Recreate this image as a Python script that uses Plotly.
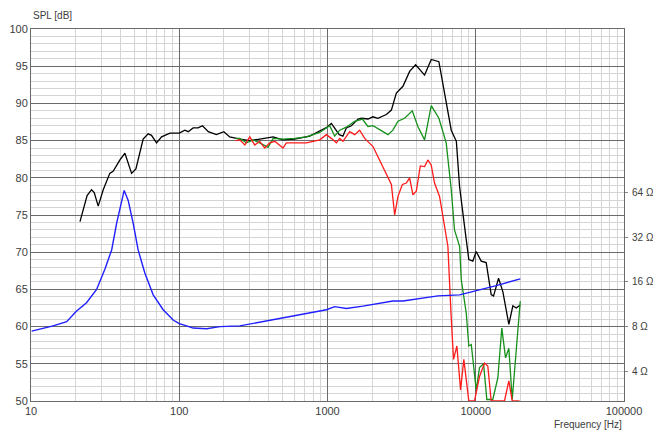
""" Loudspeaker SPL response and impedance curve """
import math

import plotly.graph_objects as go

# SPL on axis (black)
freq_black = [21.4, 23.9, 25.6, 26.7, 28.4, 30.7, 34.0, 35.9, 39.8, 43.0, 47.7, 51.0,
              57.1, 61.7, 65.0, 70.3, 76.0, 86.5, 100, 109, 115, 124, 134, 143.5,
              157, 178, 200, 219, 256, 300, 350, 430, 500, 601, 759, 909, 990, 1062,
              1146, 1200, 1270, 1340, 1449, 1607, 1700, 1875, 2027, 2187, 2495, 2697,
              2913, 3228, 3581, 3930, 4517, 5010, 5640, 6160, 6835, 7400, 7780, 8400,
              8980, 9550, 10070, 10880, 11760, 12710, 13180, 14250, 15230, 16720,
              17800, 18760, 19960]
spl_black = [74.1, 77.6, 78.4, 78.0, 76.2, 78.4, 80.6, 80.9, 82.4, 83.3, 80.6, 81.2,
             85.2, 85.9, 85.7, 84.7, 85.5, 86.0, 86.0, 86.4, 86.2, 86.7, 86.7, 87.0,
             86.2, 85.8, 86.2, 85.5, 85.2, 85.0, 85.2, 85.5, 85.1, 85.2, 85.6, 86.4,
             86.8, 87.3, 86.4, 85.8, 85.6, 86.7, 87.0, 87.9, 88.0, 87.9, 88.2, 88.0,
             88.5, 89.1, 91.4, 92.3, 94.3, 95.2, 93.8, 95.9, 95.6, 91.4, 86.4, 84.9,
             78.8, 73.5, 69.0, 68.8, 70.1, 68.8, 68.6, 64.3, 64.1, 66.5, 64.7, 60.3,
             62.8, 62.5, 62.9]

# SPL off axis (green)
freq_green = [240, 256, 284, 315, 349, 397, 430, 501, 600, 721, 886, 1035, 1118, 1208,
              1340, 1525, 1718, 1875, 2027, 2249, 2559, 2761, 2988, 3311, 3733, 4070,
              4517, 5010, 5640, 6320, 6835, 7190, 7780, 7985, 8630, 8980, 9330, 10070,
              10610, 11290, 11880, 13030, 14090, 14990, 15880, 16720, 17620, 19960]
spl_green = [85.3, 85.3, 84.7, 85.1, 84.7, 84.1, 85.3, 85.2, 85.3, 85.5, 86.1, 87.0,
             85.6, 86.4, 86.8, 87.6, 87.9, 86.9, 87.0, 86.5, 85.8, 86.4, 87.6, 88.0,
             89.0, 86.9, 85.1, 89.7, 88.0, 84.7, 78.4, 73.0, 70.8, 66.3, 61.8, 57.4,
             57.6, 51.5, 54.5, 55.0, 50.2, 50.2, 53.1, 59.8, 55.8, 57.1, 50.2, 63.4]

# SPL off axis (red)
freq_red = [240, 256, 277, 299, 323, 349, 377, 408, 441, 501, 528, 721, 886, 983, 1060,
            1148, 1208, 1271, 1412, 1525, 1648, 1782, 2027, 2249, 2559, 2697, 2839,
            2988, 3199, 3404, 3581, 3768, 3972, 4227, 4517, 4756, 5010, 5272, 5700,
            6160, 6486, 6800, 7080, 7460, 7900, 8310, 8980, 9810, 10610, 11460, 12060,
            12710, 15630, 16720, 17620, 19730]
spl_red = [85.0, 85.1, 84.4, 85.5, 84.4, 84.9, 84.0, 84.7, 84.9, 84.0, 84.7, 84.7,
           85.1, 85.8, 85.3, 84.7, 85.3, 84.9, 86.2, 85.8, 86.4, 85.3, 84.2, 82.4,
           80.0, 79.1, 75.0, 77.5, 79.1, 79.3, 80.0, 77.7, 78.2, 81.6, 81.5, 82.4,
           81.7, 79.3, 77.5, 73.5, 70.8, 62.0, 55.6, 57.4, 51.5, 55.6, 50.0, 50.0,
           53.3, 55.1, 54.7, 50.0, 50.0, 52.7, 50.0, 50.0]

# Impedance (blue), ohms
freq_imp = [10.1, 14.1, 17.4, 20.3, 23.7, 27.7, 31.5, 35.0, 37.8, 40.8, 42.5, 45.2,
            48.9, 52.8, 58.6, 66.7, 77.9, 91.0, 100, 112, 124, 153, 188, 256, 367,
            617, 984, 1118, 1340, 1734, 2761, 3228, 3972, 5555, 7780, 10070, 13740,
            19960]
ohm_imp = [7.46, 8.09, 8.64, 10.2, 11.6, 14.25, 19.5, 26.3, 39.8, 57.0, 66.3, 57.0,
           39.8, 26.3, 18.4, 13.1, 10.4, 8.86, 8.38, 8.09, 7.82, 7.73, 8.0, 8.09, 8.64,
           9.6, 10.4, 10.9, 10.6, 11.0, 11.9, 11.9, 12.3, 12.9, 13.1, 13.9, 15.1, 16.8]

x_ticks = [10, 100, 1000, 10000, 100000]
ohm_ticks = [4, 8, 16, 32, 64]

MAJOR = '#6a6a6a'
MINOR = '#d4d4d4'
TEXT = '#3c3c3c'
FONT = 'Liberation Sans, Arial, sans-serif'

fig = go.Figure()
fig.add_trace(go.Scatter(x=freq_imp, y=ohm_imp, yaxis='y2', mode='lines',
                         line=dict(color='#1f1fff', width=1.4)))
fig.add_trace(go.Scatter(x=freq_black, y=spl_black, mode='lines',
                         line=dict(color='#000000', width=1.3)))
fig.add_trace(go.Scatter(x=freq_green, y=spl_green, mode='lines',
                         line=dict(color='#15901a', width=1.3)))
fig.add_trace(go.Scatter(x=freq_red, y=spl_red, mode='lines',
                         line=dict(color='#ff1a1a', width=1.3)))

# 8 ohm sits at 60 dB, 6 dB per octave
ohm_lo = 8 * 2 ** (-10 / 6)
ohm_hi = 8 * 2 ** (40 / 6)

fig.update_layout(
    width=653, height=435,
    margin=dict(l=31, r=29, t=29, b=34, autoexpand=False),
    paper_bgcolor='white', plot_bgcolor='white',
    showlegend=False,
    font=dict(family=FONT, size=11, color=TEXT),
    xaxis=dict(type='log', range=[1, 5], tickvals=x_ticks,
               ticktext=[str(v) for v in x_ticks], automargin=False,
               showgrid=True, gridcolor=MAJOR, gridwidth=1,
               minor=dict(dtick='D1', showgrid=True, gridcolor=MINOR, gridwidth=1),
               showline=True, linecolor=MAJOR, linewidth=1, mirror=True,
               ticks='', zeroline=False),
    yaxis=dict(range=[50, 100], dtick=5, showgrid=True, gridcolor=MAJOR, gridwidth=1,
               minor=dict(dtick=1, showgrid=True, gridcolor=MINOR, gridwidth=1),
               showline=True, linecolor=MAJOR, linewidth=1, mirror=True,
               ticks='', zeroline=False, automargin=False),
    yaxis2=dict(type='log', overlaying='y', side='right', automargin=False,
                range=[math.log10(ohm_lo), math.log10(ohm_hi)],
                tickvals=ohm_ticks, ticktext=[f'{v} Ω' for v in ohm_ticks],
                tickfont=dict(size=10), ticklabelstandoff=2,
                showgrid=False, zeroline=False, ticks='outside', ticklen=3,
                tickcolor='#888888', showline=False),
    annotations=[
        dict(text='SPL [dB]', x=0, y=1, xref='paper', yref='paper', xanchor='left',
             yanchor='bottom', yshift=6, showarrow=False, font=dict(size=10)),
        dict(text='Frequency [Hz]', x=1, y=0, xref='paper', yref='paper',
             xanchor='right', yanchor='top', yshift=-16, showarrow=False,
             font=dict(size=10)),
    ],
)

# page body margin would push the fixed-size figure off the window
fig.write_html("out.html", config={'displayModeBar': False},
               post_script="document.body.style.margin = '0';")
